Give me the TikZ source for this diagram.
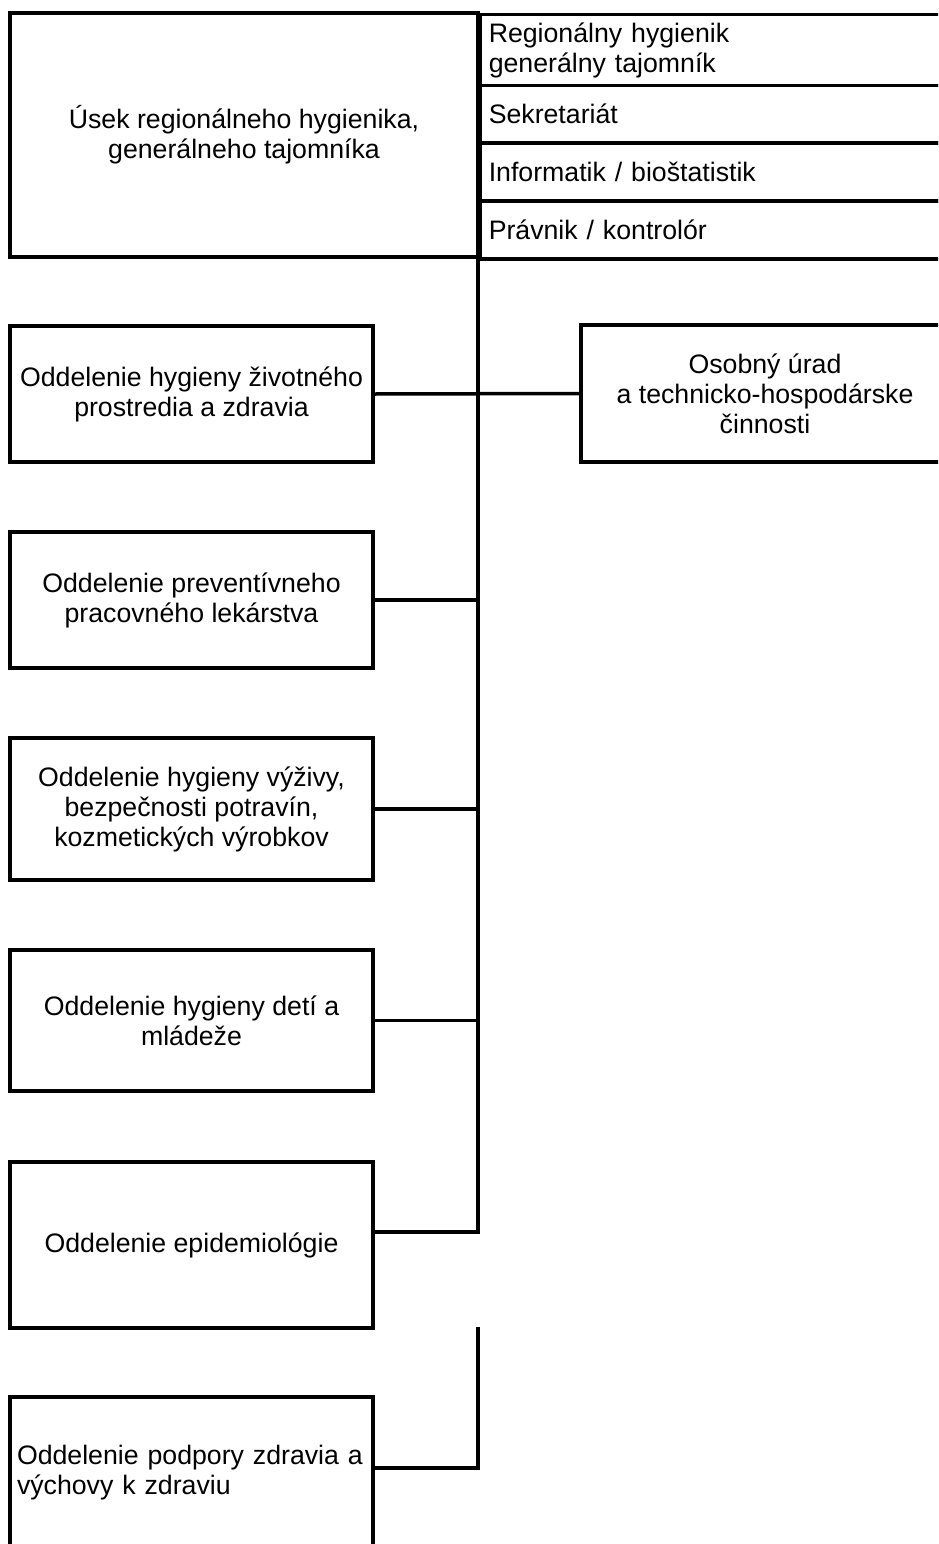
\documentclass[tikz,border=0pt]{standalone}
\usepackage{fontspec}
\setmainfont{Liberation Sans}
\newcommand{\fs}{\fontsize{26.7}{30}\selectfont}
\begin{document}
\begin{tikzpicture}[x=1pt,y=-1pt,
  box/.style={draw,line width=3.5pt,inner sep=0pt,font=\fs,align=center},
  cell/.style={draw,line width=3.5pt,anchor=north west,inner ysep=0pt,inner xsep=9pt,text width=462pt,align=left,font=\fs},
  conn/.style={line width=3.5pt,line join=miter}]
\useasboundingbox (0,0) rectangle (938,1544);
\clip (0,0) rectangle (938,1544);
% top block
\node[box,minimum width=468pt,minimum height=244pt] (usek) at (244,135) {Úsek regionálneho hygienika,\\generálneho tajomníka};
\node[cell,minimum height=71pt] (c1) at (478,13) {Regionálny hygienik\\generálny tajomník};
\node[cell,minimum height=57pt] (c2) at (478,84) {Sekretariát};
\node[cell,minimum height=58pt] (c3) at (478,141) {Informatik / bioštatistik};
\node[cell,minimum height=58pt] (c4) at (478,199) {Právnik / kontrolór};
% departments
\node[box,minimum width=363pt,minimum height=136pt] (b1) at (191.5,394) {Oddelenie hygieny životného\\prostredia a zdravia};
\node[box,minimum width=368pt,minimum height=137pt] (r1) at (765,393.5) {Osobný úrad\\a technicko-hospodárske\\činnosti};
\node[box,minimum width=363pt,minimum height=136pt] (b2) at (191.5,600) {Oddelenie preventívneho\\pracovného lekárstva};
\node[box,minimum width=363pt,minimum height=142pt] (b3) at (191.5,809) {Oddelenie hygieny výživy,\\bezpečnosti potravín,\\kozmetických výrobkov};
\node[box,minimum width=363pt,minimum height=141pt] (b4) at (191.5,1020.5) {Oddelenie hygieny detí a\\mládeže};
\node[box,minimum width=363pt,minimum height=166pt] (b5) at (191.5,1245) {Oddelenie epidemiológie};
\node[box,minimum width=363pt,minimum height=152pt,text width=349pt,inner xsep=7pt,align=left] (b6) at (191.5,1473) {\mbox{Oddelenie podpory zdravia a}\\\mbox{výchovy k zdraviu}};
% trunk
\coordinate (t0) at (478,13);
\coordinate (t1) at (478,1327);
\draw[conn] (t0) |- ([yshift=13pt]b5.east);
\draw[conn] (t1) |- ([yshift=5pt]b6.east);
\draw[conn] (b1.east) -- (r1.west);
\draw[conn] (b2.east) -- (b2.east -| t0);
\draw[conn] (b3.east) -- (b3.east -| t0);
\draw[conn] (b4.east) -- (b4.east -| t0);
\end{tikzpicture}
\end{document}
